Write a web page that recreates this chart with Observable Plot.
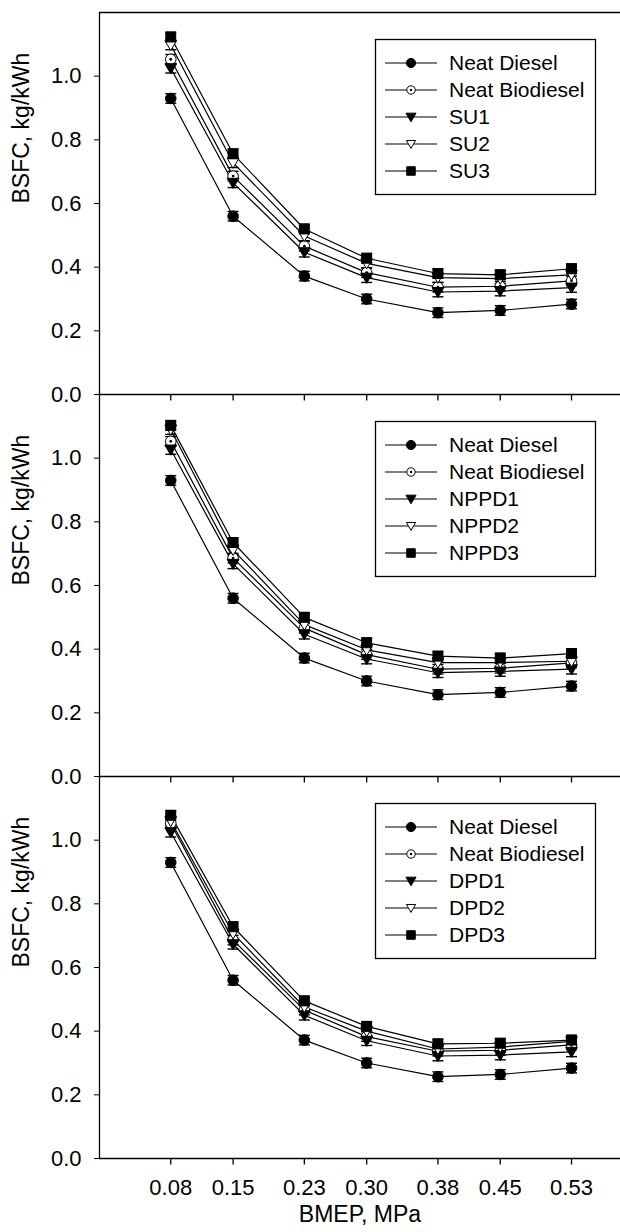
<!DOCTYPE html>
<html>
<head>
<meta charset="utf-8">
<script src="https://cdn.jsdelivr.net/npm/d3@7"></script>
<script src="https://cdn.jsdelivr.net/npm/@observablehq/plot@0.6"></script>
<style>
  html, body { margin: 0; padding: 0; background: white; }
  #chart svg { display: block; }
</style>
</head>
<body>
<div id="chart"></div>
<script>
// ---- data ----
const bmep = [0.08, 0.15, 0.23, 0.30, 0.38, 0.45, 0.53];
const yTicks = [0, 0.2, 0.4, 0.6, 0.8, 1.0];
const panels = ["SU", "NPPD", "DPD"];
const errorBar = 0.015;

const neatDiesel    = [0.930, 0.560, 0.372, 0.300, 0.257, 0.264, 0.284];
const neatBiodiesel = [1.053, 0.686, 0.466, 0.383, 0.337, 0.340, 0.357];

const suNames = ["Neat Diesel", "Neat Biodiesel", "SU1", "SU2", "SU3"];
const su1 = [1.025, 0.665, 0.447, 0.367, 0.322, 0.325, 0.336];
const su2 = [1.098, 0.728, 0.498, 0.412, 0.367, 0.364, 0.376];
const su3 = [1.123, 0.756, 0.520, 0.428, 0.380, 0.376, 0.395];

const nppdNames = ["Neat Diesel", "Neat Biodiesel", "NPPD1", "NPPD2", "NPPD3"];
const nppd1 = [1.027, 0.668, 0.447, 0.369, 0.326, 0.330, 0.337];
const nppd2 = [1.090, 0.712, 0.477, 0.398, 0.358, 0.358, 0.362];
const nppd3 = [1.103, 0.735, 0.500, 0.420, 0.378, 0.372, 0.386];

const dpdNames = ["Neat Diesel", "Neat Biodiesel", "DPD1", "DPD2", "DPD3"];
const dpd1 = [1.025, 0.673, 0.450, 0.370, 0.322, 0.325, 0.335];
const dpd2 = [1.060, 0.707, 0.476, 0.400, 0.344, 0.350, 0.368];
const dpd3 = [1.078, 0.728, 0.495, 0.415, 0.360, 0.362, 0.372];

// ---- build table ----
const panelSeries = {
  SU:   {names: suNames,   values: [neatDiesel, neatBiodiesel, su1, su2, su3]},
  NPPD: {names: nppdNames, values: [neatDiesel, neatBiodiesel, nppd1, nppd2, nppd3]},
  DPD:  {names: dpdNames,  values: [neatDiesel, neatBiodiesel, dpd1, dpd2, dpd3]}
};
const rows = [];
for (const p of panels) {
  panelSeries[p].values.forEach((vals, i) => {
    vals.forEach((v, j) => rows.push({panel: p, idx: i, key: p + i, series: panelSeries[p].names[i], x: bmep[j], y: v}));
  });
}

// ---- custom symbols ----
const triangleDown = {
  draw(ctx, size) {
    const r = Math.sqrt(size / Math.PI);
    ctx.moveTo(0, r);
    ctx.lineTo(-r * 1.05, -r * 0.8);
    ctx.lineTo(r * 1.05, -r * 0.8);
    ctx.closePath();
  }
};
const hCap = {
  draw(ctx, size) {
    const r = Math.sqrt(size / Math.PI);
    ctx.moveTo(-r, 0); ctx.lineTo(r, 0);
  }
};
const vTick = {
  draw(ctx, size) {
    const r = Math.sqrt(size / Math.PI);
    ctx.moveTo(0, 0); ctx.lineTo(0, r);
  }
};

const styles = [
  {symbol: d3.symbolCircle, fill: "black", r: 5.3, lr: 4.6},
  {symbol: d3.symbolCircle, fill: "white", r: 5.3, lr: 4.2, dot: true},
  {symbol: triangleDown, fill: "black", r: 5.6, lr: 4.8},
  {symbol: triangleDown, fill: "white", r: 5.6, lr: 4.4},
  {symbol: d3.symbolSquare, fill: "black", r: 5.6, lr: 4.8}
];

const marks = [
  Plot.ruleX([0], {stroke: "black", strokeWidth: 1.3}),
  Plot.ruleY([0], {stroke: "black", strokeWidth: 1.3}),
  Plot.ruleY([1.2], {fy: ["SU"], stroke: "black", strokeWidth: 1.3}),
  Plot.dot(bmep, {x: d => d, y: () => 0, symbol: vTick, r: 6, stroke: "black", strokeWidth: 1.3, fill: "none"}),
  Plot.line(rows, {x: "x", y: "y", z: "key", fy: "panel", stroke: "black", strokeWidth: 1.2}),
  Plot.ruleX(rows, {x: "x", y1: d => d.y - errorBar, y2: d => d.y + errorBar, fy: "panel", stroke: "black", strokeWidth: 1.2}),
  Plot.dot(rows, {x: "x", y: d => d.y + errorBar, fy: "panel", symbol: hCap, r: 5.5, stroke: "black", strokeWidth: 1.4, fill: "none"}),
  Plot.dot(rows, {x: "x", y: d => d.y - errorBar, fy: "panel", symbol: hCap, r: 5.5, stroke: "black", strokeWidth: 1.4, fill: "none"})
];
styles.forEach((s, i) => {
  marks.push(Plot.dot(rows.filter(d => d.idx === i), {x: "x", y: "y", fy: "panel", symbol: s.symbol, r: s.r, fill: s.fill, stroke: "black", strokeWidth: 1}));
  if (s.dot) marks.push(Plot.dot(rows.filter(d => d.idx === i), {x: "x", y: "y", fy: "panel", r: 1.4, fill: "black"}));
});
marks.push(Plot.text(["BSFC, kg/kWh"], {text: d => d, frameAnchor: "left", dx: -78, rotate: -90, fontSize: 23}));
marks.push(Plot.text(["BMEP, MPa"], {text: d => d, fy: ["DPD"], frameAnchor: "bottom", dy: 63, fontSize: 23}));

const chart = Plot.plot({
  width: 620,
  height: 1232,
  marginLeft: 99,
  marginRight: 0,
  marginTop: 11,
  marginBottom: 74,
  style: {fontFamily: "'Liberation Sans', Arial, sans-serif", fontSize: "22px", color: "black", background: "white"},
  x: {domain: [0, 0.585], ticks: bmep, tickFormat: d3.format(".2f"), tickSize: 0, tickPadding: 21, label: null},
  y: {domain: [0, 1.2], ticks: yTicks, tickFormat: d3.format(".1f"), tickSize: 5, tickPadding: 13, label: null},
  fy: {domain: panels, axis: null, padding: 0},
  marks
});

document.getElementById("chart").appendChild(chart);

// ---- legends ----
const fy = chart.scale("fy");
const svg = d3.select(chart.tagName.toLowerCase() === "svg" ? chart : chart.querySelector("svg"));
for (const p of panels) {
  const top = fy.apply(p);
  const g = svg.append("g").attr("text-anchor", "start");
  g.append("rect").attr("x", 375.5).attr("y", top + 27.5).attr("width", 220).attr("height", 155)
    .attr("fill", "white").attr("stroke", "black").attr("stroke-width", 1.3);
  panelSeries[p].names.forEach((name, i) => {
    const cy = top + 51 + 27 * i;
    const s = styles[i];
    g.append("line").attr("x1", 385).attr("x2", 437).attr("y1", cy).attr("y2", cy)
      .attr("stroke", "black").attr("stroke-width", 1.2);
    g.append("path").attr("d", d3.symbol(s.symbol, Math.PI * s.lr * s.lr)())
      .attr("transform", `translate(411,${cy})`).attr("fill", s.fill).attr("stroke", "black").attr("stroke-width", 1);
    if (s.dot) g.append("circle").attr("cx", 411).attr("cy", cy).attr("r", 1.2).attr("fill", "black");
    g.append("text").attr("x", 449).attr("y", cy).attr("dy", "0.35em").attr("text-anchor", "start")
      .attr("font-size", 21).attr("fill", "black").text(name);
  });
}
</script>
</body>
</html>
